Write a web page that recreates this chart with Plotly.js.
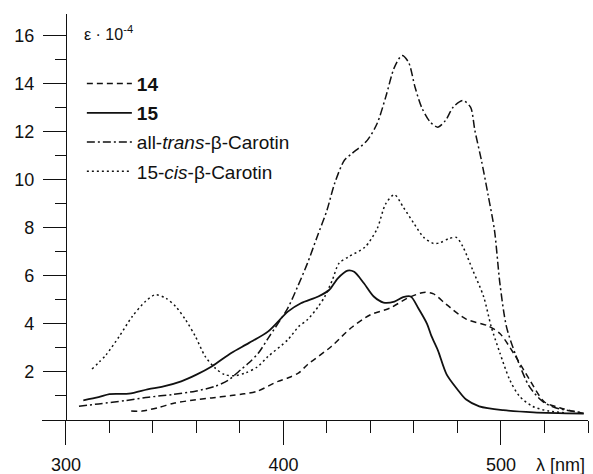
<!DOCTYPE html>
<html>
<head>
<meta charset="utf-8">
<script src="https://cdn.plot.ly/plotly-3.0.1.min.js"></script>
<style>html,body{margin:0;padding:0;background:#fff;}#chart{width:593px;height:474px;}</style>
</head>
<body>
<div id="chart"></div>
<script>
// Compound 14 (dashed)
const x14 = [330, 335, 343, 350, 358, 367, 376, 382, 388, 397.5, 402, 407, 411, 422, 431, 440, 449, 457, 464.5, 469, 475, 484, 494, 499.5, 506, 513, 520, 527, 538];
const y14 = [0.37, 0.37, 0.53, 0.71, 0.82, 0.92, 1.02, 1.09, 1.20, 1.61, 1.75, 1.96, 2.30, 3.06, 3.83, 4.38, 4.66, 5.07, 5.31, 5.25, 4.80, 4.20, 3.92, 3.60, 2.75, 1.70, 0.75, 0.51, 0.27];
// Compound 15 (solid)
const x15 = [308, 315, 320, 329, 338, 344, 353, 360, 367, 376, 384, 393, 402, 408, 416, 421, 425, 429.5, 432.5, 437, 441.5, 446, 451, 455, 458.5, 462, 466, 468, 471, 475, 480, 484, 490, 501, 515, 538];
const y15 = [0.82, 0.95, 1.08, 1.10, 1.29, 1.38, 1.61, 1.89, 2.23, 2.79, 3.20, 3.69, 4.51, 4.86, 5.14, 5.41, 5.90, 6.22, 6.17, 5.69, 5.14, 4.89, 4.93, 5.11, 5.14, 4.65, 4.00, 3.50, 2.90, 1.90, 1.27, 0.85, 0.57, 0.41, 0.32, 0.27];
// all-trans-beta-Carotin (dash-dot)
const xTrans = [306, 315, 327.5, 338, 349, 359.5, 368.5, 374.5, 380.5, 384, 388.5, 393, 402, 406.5, 411, 415.5, 420, 423.5, 428, 431.5, 438.5, 443, 447, 451, 454.5, 457.5, 460.5, 463.5, 467.5, 471, 474.5, 478, 482.5, 486, 488, 491, 494, 497, 499.5, 502.5, 507, 513, 519, 525, 537.5];
const yTrans = [0.57, 0.67, 0.81, 0.95, 1.06, 1.20, 1.40, 1.65, 2.10, 2.37, 2.79, 3.41, 4.66, 5.55, 6.52, 7.63, 8.73, 9.84, 10.81, 11.09, 11.64, 12.33, 13.44, 14.68, 15.17, 14.89, 13.85, 13.02, 12.40, 12.19, 12.47, 13.02, 13.30, 13.02, 12.05, 10.81, 9.40, 7.90, 5.69, 3.89, 2.65, 1.40, 0.78, 0.51, 0.30];
// 15-cis-beta-Carotin (dotted)
const xCis = [312, 318.5, 324.5, 330.5, 336.5, 341, 346, 350.5, 355, 359.5, 364, 368.5, 373, 378, 382.5, 388, 393, 402, 407, 411, 416, 419, 422.5, 425.5, 430, 437.5, 443, 447, 451, 455, 460, 464.5, 469, 472, 476, 479.5, 482.5, 487, 492, 495.5, 499.5, 504, 508.5, 514.5, 522, 530];
const yCis = [2.12, 2.72, 3.48, 4.31, 4.93, 5.21, 5.07, 4.72, 4.17, 3.48, 2.65, 2.17, 1.89, 1.85, 1.96, 2.21, 2.65, 3.34, 3.89, 4.17, 4.72, 5.14, 5.83, 6.52, 6.80, 7.20, 7.95, 9.00, 9.38, 8.87, 8.18, 7.60, 7.35, 7.38, 7.55, 7.60, 7.21, 6.24, 5.14, 3.89, 2.79, 1.68, 0.99, 0.57, 0.37, 0.30];

const names = ['<b>14</b>', '<b>15</b>', 'all-<i>trans</i>-β-Carotin', '15-<i>cis</i>-β-Carotin'];
const xTickVals = [300, 400, 500];
const yTickVals = [2, 4, 6, 8, 10, 12, 14, 16];

const ink = '#111';
const traces = [
  {x: x14, y: y14, name: names[0], line: {color: ink, width: 1.5, dash: '6px,4px', shape: 'spline', smoothing: 0.8}},
  {x: x15, y: y15, name: names[1], line: {color: ink, width: 1.8, dash: 'solid', shape: 'spline', smoothing: 0.8}},
  {x: xTrans, y: yTrans, name: names[2], line: {color: ink, width: 1.5, dash: '8px,3px,2px,3px', shape: 'spline', smoothing: 0.8}},
  {x: xCis, y: yCis, name: names[3], line: {color: ink, width: 1.5, dash: '2px,3px', shape: 'spline', smoothing: 0.8}}
].map((t, i) => Object.assign({type: 'scatter', mode: 'lines', legendgroup: 'g' + i, hoverinfo: 'skip'}, t));

const font = {family: 'Liberation Sans, Arial, sans-serif', size: 18, color: ink};

const layout = {
  width: 593, height: 474,
  margin: {l: 42, r: 5, t: 14, b: 53.5},
  paper_bgcolor: '#fff', plot_bgcolor: '#fff',
  font: font,
  showlegend: true,
  legend: {
    x: 0.073, y: 0.875, xanchor: 'left', yanchor: 'top',
    font: {family: font.family, size: 19, color: ink},
    bgcolor: 'rgba(0,0,0,0)', tracegroupgap: 1.5, itemwidth: 45
  },
  xaxis: {
    range: [289, 540], showgrid: false, zeroline: false,
    showline: true, linecolor: ink, linewidth: 1,
    ticks: 'outside', ticklen: 24, tickwidth: 1, tickcolor: ink,
    tickmode: 'array', tickvals: xTickVals, ticktext: xTickVals.map(String),
    ticklabelstandoff: 4,
    minor: {tickmode: 'linear', tick0: 300, dtick: 20, ticks: 'outside', ticklen: 12, tickwidth: 1, tickcolor: ink, showgrid: false},
    tickfont: font, fixedrange: true
  },
  yaxis: {
    range: [0, 16.9], showgrid: false, zeroline: false,
    anchor: 'free', position: (300 - 289) / (540 - 289),
    showline: true, linecolor: ink, linewidth: 1,
    ticks: 'outside', ticklen: 23, tickwidth: 1, tickcolor: ink,
    tickmode: 'array', tickvals: yTickVals, ticktext: yTickVals.map(String),
    ticklabelstandoff: 5,
    minor: {tickmode: 'linear', tick0: 1, dtick: 2, ticks: 'outside', ticklen: 11, tickwidth: 1, tickcolor: ink, showgrid: false},
    tickfont: font, fixedrange: true
  },
  annotations: [
    {xref: 'x', yref: 'y', x: 307.5, y: 16.1, xanchor: 'left', yanchor: 'middle', showarrow: false,
     text: 'ε · 10<sup>-4</sup>', font: {family: font.family, size: 16, color: ink}},
    {xref: 'x', yref: 'paper', x: 515, y: -0.112, xanchor: 'left', yanchor: 'middle', showarrow: false,
     text: 'λ [nm]', font: {family: font.family, size: 18, color: ink}}
  ]
};

Plotly.newPlot('chart', traces, layout, {displayModeBar: false, staticPlot: true});
</script>
</body>
</html>
